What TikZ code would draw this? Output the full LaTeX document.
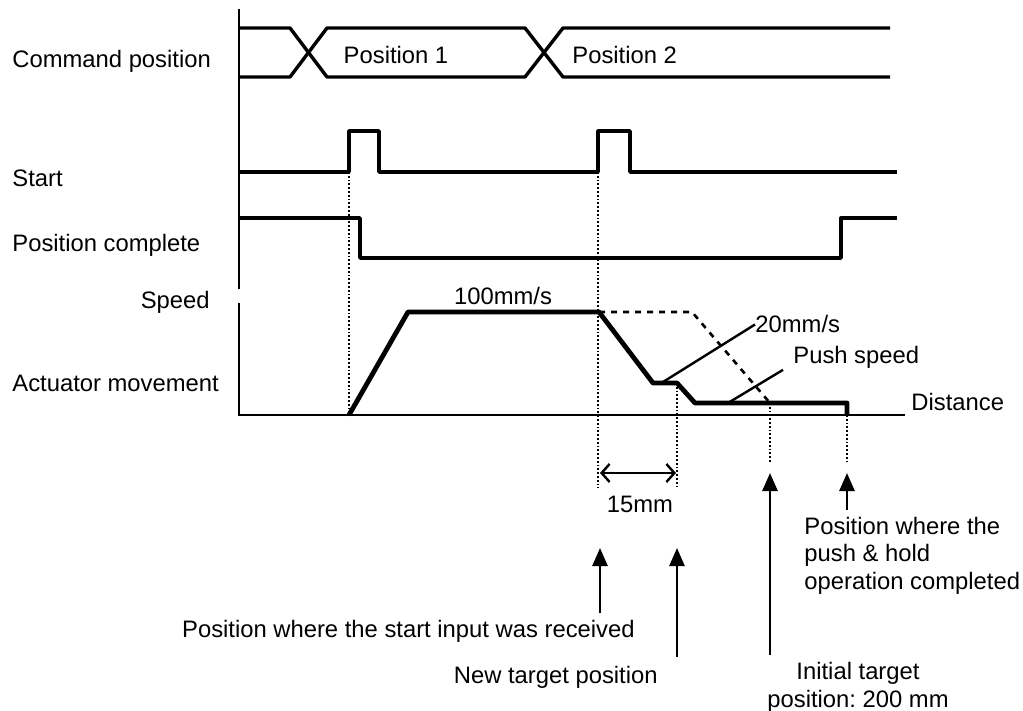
\documentclass[tikz,border=0pt]{standalone}
\usepackage{fontspec}
\setmainfont{Liberation Sans}
\usetikzlibrary{arrows.meta,positioning,calc}
\tikzset{
  tsig/.style={line width=1.7pt, line join=round},
  tspd/.style={line width=2.4pt, line join=round},
  tdot/.style={densely dotted, line width=0.9pt},
  tlead/.style={line width=1.2pt},
  tarr/.style={-{Triangle[length=9pt,width=7.5pt]}, line width=1.3pt},
  tdim/.style={{Straight Barb[length=4pt,width=9pt]}-{Straight Barb[length=4pt,width=9pt]}, line width=1.2pt},
  tlbl/.style={font=\fontsize{11.9}{13.75}\selectfont\frenchspacing, inner sep=0pt, align=left},
}

\begin{document}
\begin{tikzpicture}[x=0.5pt,y=-0.5pt]
        \useasboundingbox (0,0) rectangle (1023,711);
        % axes
        \draw[line width=1.2pt] (239,9) -- (239,289);
        \draw[line width=1.2pt] (239,303) -- (239,415) -- (905,415);
        % signal names
        \node[tlbl,anchor=base west](cmd) at (12,68){Command position};
        \node[tlbl,anchor=base west](st) at (12,187){Start};
        \node[tlbl,anchor=base west](pc) at (12,252){Position complete};
        \node[tlbl,anchor=base east](sp) at (210,308){Speed};
        \node[tlbl,anchor=base west](am) at (12,391){Actuator movement};
        % command position
        \draw[tsig] (239,28) -- (290,28) -- (327,77) -- (525,77) -- (563,28) -- (890,28);
        \draw[tsig] (239,77) -- (290,77) -- (327,28) -- (525,28) -- (563,77) -- (890,77);
        \node[tlbl](p1) at (396,55){Position 1};
        \node[tlbl,anchor=west](p2) at (572,55){Position 2};
        % start and position complete
        \draw[tsig] (239,172) -- (349,172) -- (349,131) -- (379,131) -- (379,172) -- (598,172) -- (598,131) -- (630,131) -- (630,172) -- (897,172);
        \draw[tsig] (239,218) -- (360,218) -- (360,258) -- (841,258) -- (841,218) -- (897,218);
        % speed profile
        \draw[tspd] (349,415) -- (408,312) -- (599,312) -- (653,383) -- (677,383) -- (695,403) -- (847,403) -- (847,415);
        \draw[dashed,line width=1.3pt] (599,312) -- (692,312) -- (770,403);
        \node[tlbl,anchor=base](v1) at (503,305){100mm/s};
        \node[tlbl,anchor=base west](v2) at (755,333){20mm/s};
        \node[tlbl,anchor=base west](ps) at (793,364){Push speed};
        \node[tlbl,anchor=base west](dst) at (911,410){Distance};
        \coordinate (l1) at (663,382); \coordinate (l2) at (728,403);
        \draw[tlead] (l1) -- (v2.west);
        \draw[tlead] (l2) -- ($(ps.west)+(-10,12)$);
        % guide lines
        \coordinate (xa) at (349,172); \coordinate (xb) at (598,172); \coordinate (xc) at (677,383);
        \coordinate (xd) at (770,403); \coordinate (xe) at (847,415);
        \draw[tdot] (xa) -- (349,415);
        \draw[tdot] (xb) -- (598,488);
        \draw[tdot] (xc) -- (677,488);
        \draw[tdot] (xd) -- (770,463);
        \draw[tdot] (xe) -- (847,463);
        \coordinate (da) at (600,473); \coordinate (db) at (676,473);
        \draw[tdim] (da) -- (db);
        \node[tlbl,anchor=base](d15) at (640,512){15mm};
        % position markers
        \node[tlbl,anchor=base east](ms) at (635,637){Position where the start input was received};
        \node[tlbl,anchor=base east](mn) at (658,683){New target position};
        \node[tlbl,anchor=base,align=center](mi) at (858,707){Initial target\\position: 200 mm};
        \node[tlbl,anchor=base west](mp) at (804,589){Position where the\\push \& hold\\operation completed};
        \coordinate (ta) at (600,613); \coordinate (ha) at (600,548);
        \coordinate (tb) at (677,657); \coordinate (hb) at (677,548);
        \coordinate (tc) at (770,655); \coordinate (hc) at (770,473);
        \coordinate (td) at (847,510); \coordinate (hd) at (847,473);
        \draw[tarr] (ta) -- (ha);
        \draw[tarr] (tb) -- (hb);
        \draw[tarr] (tc) -- (hc);
        \draw[tarr] (td) -- (hd);
    \end{tikzpicture}
\end{document}
